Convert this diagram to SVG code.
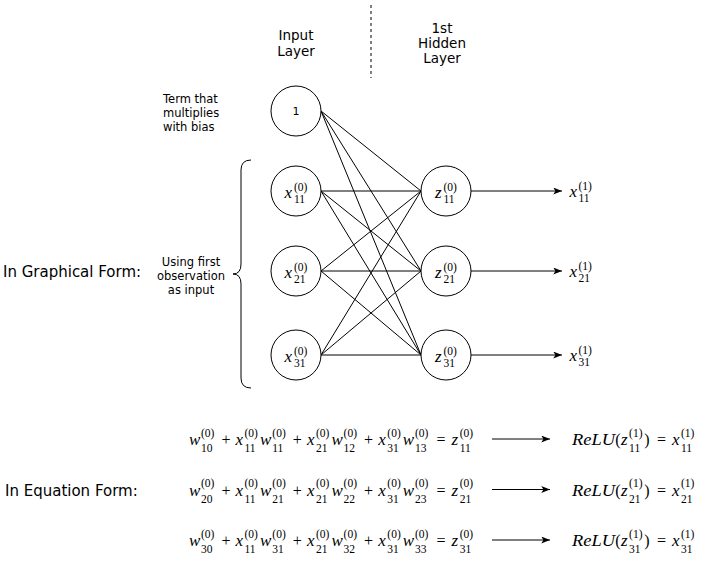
<svg xmlns="http://www.w3.org/2000/svg" width="718" height="574" viewBox="0 0 718 574">
<defs>
<style>
.nd{fill:#fff;stroke:#000;stroke-width:1}
.ln{stroke:#000;stroke-width:1;fill:none}
.lbl{font-family:"DejaVu Sans","Liberation Sans",sans-serif;fill:#000}
.mi{font-family:"Liberation Serif",serif;font-style:italic;font-size:17px;fill:#000}
.mo{font-family:"Liberation Serif",serif;font-size:16px;fill:#000;text-anchor:middle}
.sc{font-family:"Liberation Serif",serif;font-size:11.5px;fill:#000}
</style>
<marker id="arr" viewBox="0 0 10 8" refX="10" refY="4" markerWidth="9" markerHeight="7" orient="auto" markerUnits="userSpaceOnUse">
<path d="M0,0 L10,4 L0,8 L2.5,4 z" fill="#000"/>
</marker>
</defs>
<rect width="718" height="574" fill="#fff"/>

<g id="connectors">
<line class="ln" x1="371" y1="5" x2="371" y2="78" stroke-dasharray="3 3"/>
<line class="ln" x1="321" y1="111" x2="421" y2="191"/>
<line class="ln" x1="321" y1="111" x2="421" y2="271"/>
<line class="ln" x1="321" y1="111" x2="421" y2="355"/>
<line class="ln" x1="321" y1="191" x2="421" y2="191"/>
<line class="ln" x1="321" y1="191" x2="421" y2="271"/>
<line class="ln" x1="321" y1="191" x2="421" y2="355"/>
<line class="ln" x1="321" y1="271" x2="421" y2="191"/>
<line class="ln" x1="321" y1="271" x2="421" y2="271"/>
<line class="ln" x1="321" y1="271" x2="421" y2="355"/>
<line class="ln" x1="321" y1="355" x2="421" y2="191"/>
<line class="ln" x1="321" y1="355" x2="421" y2="271"/>
<line class="ln" x1="321" y1="355" x2="421" y2="355"/>
<line class="ln" x1="471" y1="191" x2="562" y2="191" marker-end="url(#arr)"/>
<line class="ln" x1="471" y1="271" x2="562" y2="271" marker-end="url(#arr)"/>
<line class="ln" x1="471" y1="355" x2="562" y2="355" marker-end="url(#arr)"/>
<line class="ln" x1="492" y1="439" x2="550" y2="439" marker-end="url(#arr)"/>
<line class="ln" x1="492" y1="489.5" x2="550" y2="489.5" marker-end="url(#arr)"/>
<line class="ln" x1="492" y1="540" x2="550" y2="540" marker-end="url(#arr)"/>
<path class="ln" d="M251 160 Q241 160 241 170 L241 264 Q241 274 233 274 Q241 274 241 284 L241 378 Q241 388 251 388"/>
</g>

<g id="bias">
<circle class="nd" cx="296" cy="111" r="25"/>
<text class="lbl" x="296" y="115" font-size="11" text-anchor="middle">1</text>
</g>
<g id="x11">
<circle class="nd" cx="296" cy="191" r="25"/>
<text class="mi" x="284.5" y="198">x</text><text class="sc" x="294" y="191">(0)</text><text class="sc" x="294" y="203">11</text>
</g>
<g id="x21">
<circle class="nd" cx="296" cy="271" r="25"/>
<text class="mi" x="284.5" y="278">x</text><text class="sc" x="294" y="271">(0)</text><text class="sc" x="294" y="283">21</text>
</g>
<g id="x31">
<circle class="nd" cx="296" cy="355" r="25"/>
<text class="mi" x="284.5" y="362">x</text><text class="sc" x="294" y="355">(0)</text><text class="sc" x="294" y="367">31</text>
</g>
<g id="z11">
<circle class="nd" cx="446" cy="191" r="25"/>
<text class="mi" x="435" y="198">z</text><text class="sc" x="443.5" y="191">(0)</text><text class="sc" x="443.5" y="203">11</text>
</g>
<g id="z21">
<circle class="nd" cx="446" cy="271" r="25"/>
<text class="mi" x="435" y="278">z</text><text class="sc" x="443.5" y="271">(0)</text><text class="sc" x="443.5" y="283">21</text>
</g>
<g id="z31">
<circle class="nd" cx="446" cy="355" r="25"/>
<text class="mi" x="435" y="362">z</text><text class="sc" x="443.5" y="355">(0)</text><text class="sc" x="443.5" y="367">31</text>
</g>

<g id="outputs">
<text class="mi" x="569.5" y="197">x</text><text class="sc" x="578.5" y="190">(1)</text><text class="sc" x="578.5" y="202">11</text>
<text class="mi" x="569.5" y="277">x</text><text class="sc" x="578.5" y="270">(1)</text><text class="sc" x="578.5" y="282">21</text>
<text class="mi" x="569.5" y="361">x</text><text class="sc" x="578.5" y="354">(1)</text><text class="sc" x="578.5" y="366">31</text>
</g>

<g id="labels" class="lbl">
<text x="296" y="40" font-size="13.5" text-anchor="middle">Input</text>
<text x="296" y="56" font-size="13.5" text-anchor="middle">Layer</text>
<text x="442" y="33" font-size="13.5" text-anchor="middle">1st</text>
<text x="442" y="48" font-size="13.5" text-anchor="middle">Hidden</text>
<text x="442" y="63" font-size="13.5" text-anchor="middle">Layer</text>
<text x="163" y="103" font-size="11.5">Term that</text>
<text x="163" y="117" font-size="11.5">multiplies</text>
<text x="163" y="131" font-size="11.5">with bias</text>
<text x="191" y="266" font-size="11.5" text-anchor="middle">Using first</text>
<text x="191" y="280" font-size="11.5" text-anchor="middle">observation</text>
<text x="191" y="294" font-size="11.5" text-anchor="middle">as input</text>
<text x="3" y="277" font-size="15">In Graphical Form:</text>
<text x="5" y="496" font-size="15">In Equation Form:</text>
</g>

<g id="eq1">
<text class="mi" x="189" y="445">w</text><text class="sc" x="201" y="436.5">(0)</text><text class="sc" x="201" y="452">10</text>
<text class="mo" x="225.9" y="445">+</text>
<text class="mi" x="235.5" y="445">x</text><text class="sc" x="244.5" y="436.5">(0)</text><text class="sc" x="244.5" y="452">11</text>
<text class="mi" x="260" y="445">w</text><text class="sc" x="272.3" y="436.5">(0)</text><text class="sc" x="272.3" y="452">11</text>
<text class="mo" x="297.3" y="445">+</text>
<text class="mi" x="307" y="445">x</text><text class="sc" x="316" y="436.5">(0)</text><text class="sc" x="316" y="452">21</text>
<text class="mi" x="331.5" y="445">w</text><text class="sc" x="343.6" y="436.5">(0)</text><text class="sc" x="343.6" y="452">12</text>
<text class="mo" x="368.6" y="445">+</text>
<text class="mi" x="378.3" y="445">x</text><text class="sc" x="387.3" y="436.5">(0)</text><text class="sc" x="387.3" y="452">31</text>
<text class="mi" x="402.8" y="445">w</text><text class="sc" x="415" y="436.5">(0)</text><text class="sc" x="415" y="452">13</text>
<text class="mo" x="441" y="445">=</text>
<text class="mi" x="451.5" y="445">z</text><text class="sc" x="459.7" y="436.5">(0)</text><text class="sc" x="459.7" y="452">11</text>
<text class="mi" x="572" y="445" textLength="43" lengthAdjust="spacingAndGlyphs">ReLU</text>
<text class="mo" x="618" y="445">(</text>
<text class="mi" x="621" y="445">z</text><text class="sc" x="629.1" y="436.5">(1)</text><text class="sc" x="629.1" y="452">11</text>
<text class="mo" x="647" y="445">)</text>
<text class="mo" x="661.6" y="445">=</text>
<text class="mi" x="672" y="445">x</text><text class="sc" x="681" y="436.5">(1)</text><text class="sc" x="681" y="452">11</text>
</g>

<g id="eq2">
<text class="mi" x="189" y="495.5">w</text><text class="sc" x="201" y="487">(0)</text><text class="sc" x="201" y="502.5">20</text>
<text class="mo" x="225.9" y="495.5">+</text>
<text class="mi" x="235.5" y="495.5">x</text><text class="sc" x="244.5" y="487">(0)</text><text class="sc" x="244.5" y="502.5">11</text>
<text class="mi" x="260" y="495.5">w</text><text class="sc" x="272.3" y="487">(0)</text><text class="sc" x="272.3" y="502.5">21</text>
<text class="mo" x="297.3" y="495.5">+</text>
<text class="mi" x="307" y="495.5">x</text><text class="sc" x="316" y="487">(0)</text><text class="sc" x="316" y="502.5">21</text>
<text class="mi" x="331.5" y="495.5">w</text><text class="sc" x="343.6" y="487">(0)</text><text class="sc" x="343.6" y="502.5">22</text>
<text class="mo" x="368.6" y="495.5">+</text>
<text class="mi" x="378.3" y="495.5">x</text><text class="sc" x="387.3" y="487">(0)</text><text class="sc" x="387.3" y="502.5">31</text>
<text class="mi" x="402.8" y="495.5">w</text><text class="sc" x="415" y="487">(0)</text><text class="sc" x="415" y="502.5">23</text>
<text class="mo" x="441" y="495.5">=</text>
<text class="mi" x="451.5" y="495.5">z</text><text class="sc" x="459.7" y="487">(0)</text><text class="sc" x="459.7" y="502.5">21</text>
<text class="mi" x="572" y="495.5" textLength="43" lengthAdjust="spacingAndGlyphs">ReLU</text>
<text class="mo" x="618" y="495.5">(</text>
<text class="mi" x="621" y="495.5">z</text><text class="sc" x="629.1" y="487">(1)</text><text class="sc" x="629.1" y="502.5">21</text>
<text class="mo" x="647" y="495.5">)</text>
<text class="mo" x="661.6" y="495.5">=</text>
<text class="mi" x="672" y="495.5">x</text><text class="sc" x="681" y="487">(1)</text><text class="sc" x="681" y="502.5">21</text>
</g>

<g id="eq3">
<text class="mi" x="189" y="546">w</text><text class="sc" x="201" y="537.5">(0)</text><text class="sc" x="201" y="553">30</text>
<text class="mo" x="225.9" y="546">+</text>
<text class="mi" x="235.5" y="546">x</text><text class="sc" x="244.5" y="537.5">(0)</text><text class="sc" x="244.5" y="553">11</text>
<text class="mi" x="260" y="546">w</text><text class="sc" x="272.3" y="537.5">(0)</text><text class="sc" x="272.3" y="553">31</text>
<text class="mo" x="297.3" y="546">+</text>
<text class="mi" x="307" y="546">x</text><text class="sc" x="316" y="537.5">(0)</text><text class="sc" x="316" y="553">21</text>
<text class="mi" x="331.5" y="546">w</text><text class="sc" x="343.6" y="537.5">(0)</text><text class="sc" x="343.6" y="553">32</text>
<text class="mo" x="368.6" y="546">+</text>
<text class="mi" x="378.3" y="546">x</text><text class="sc" x="387.3" y="537.5">(0)</text><text class="sc" x="387.3" y="553">31</text>
<text class="mi" x="402.8" y="546">w</text><text class="sc" x="415" y="537.5">(0)</text><text class="sc" x="415" y="553">33</text>
<text class="mo" x="441" y="546">=</text>
<text class="mi" x="451.5" y="546">z</text><text class="sc" x="459.7" y="537.5">(0)</text><text class="sc" x="459.7" y="553">31</text>
<text class="mi" x="572" y="546" textLength="43" lengthAdjust="spacingAndGlyphs">ReLU</text>
<text class="mo" x="618" y="546">(</text>
<text class="mi" x="621" y="546">z</text><text class="sc" x="629.1" y="537.5">(1)</text><text class="sc" x="629.1" y="553">31</text>
<text class="mo" x="647" y="546">)</text>
<text class="mo" x="661.6" y="546">=</text>
<text class="mi" x="672" y="546">x</text><text class="sc" x="681" y="537.5">(1)</text><text class="sc" x="681" y="553">31</text>
</g>
</svg>
